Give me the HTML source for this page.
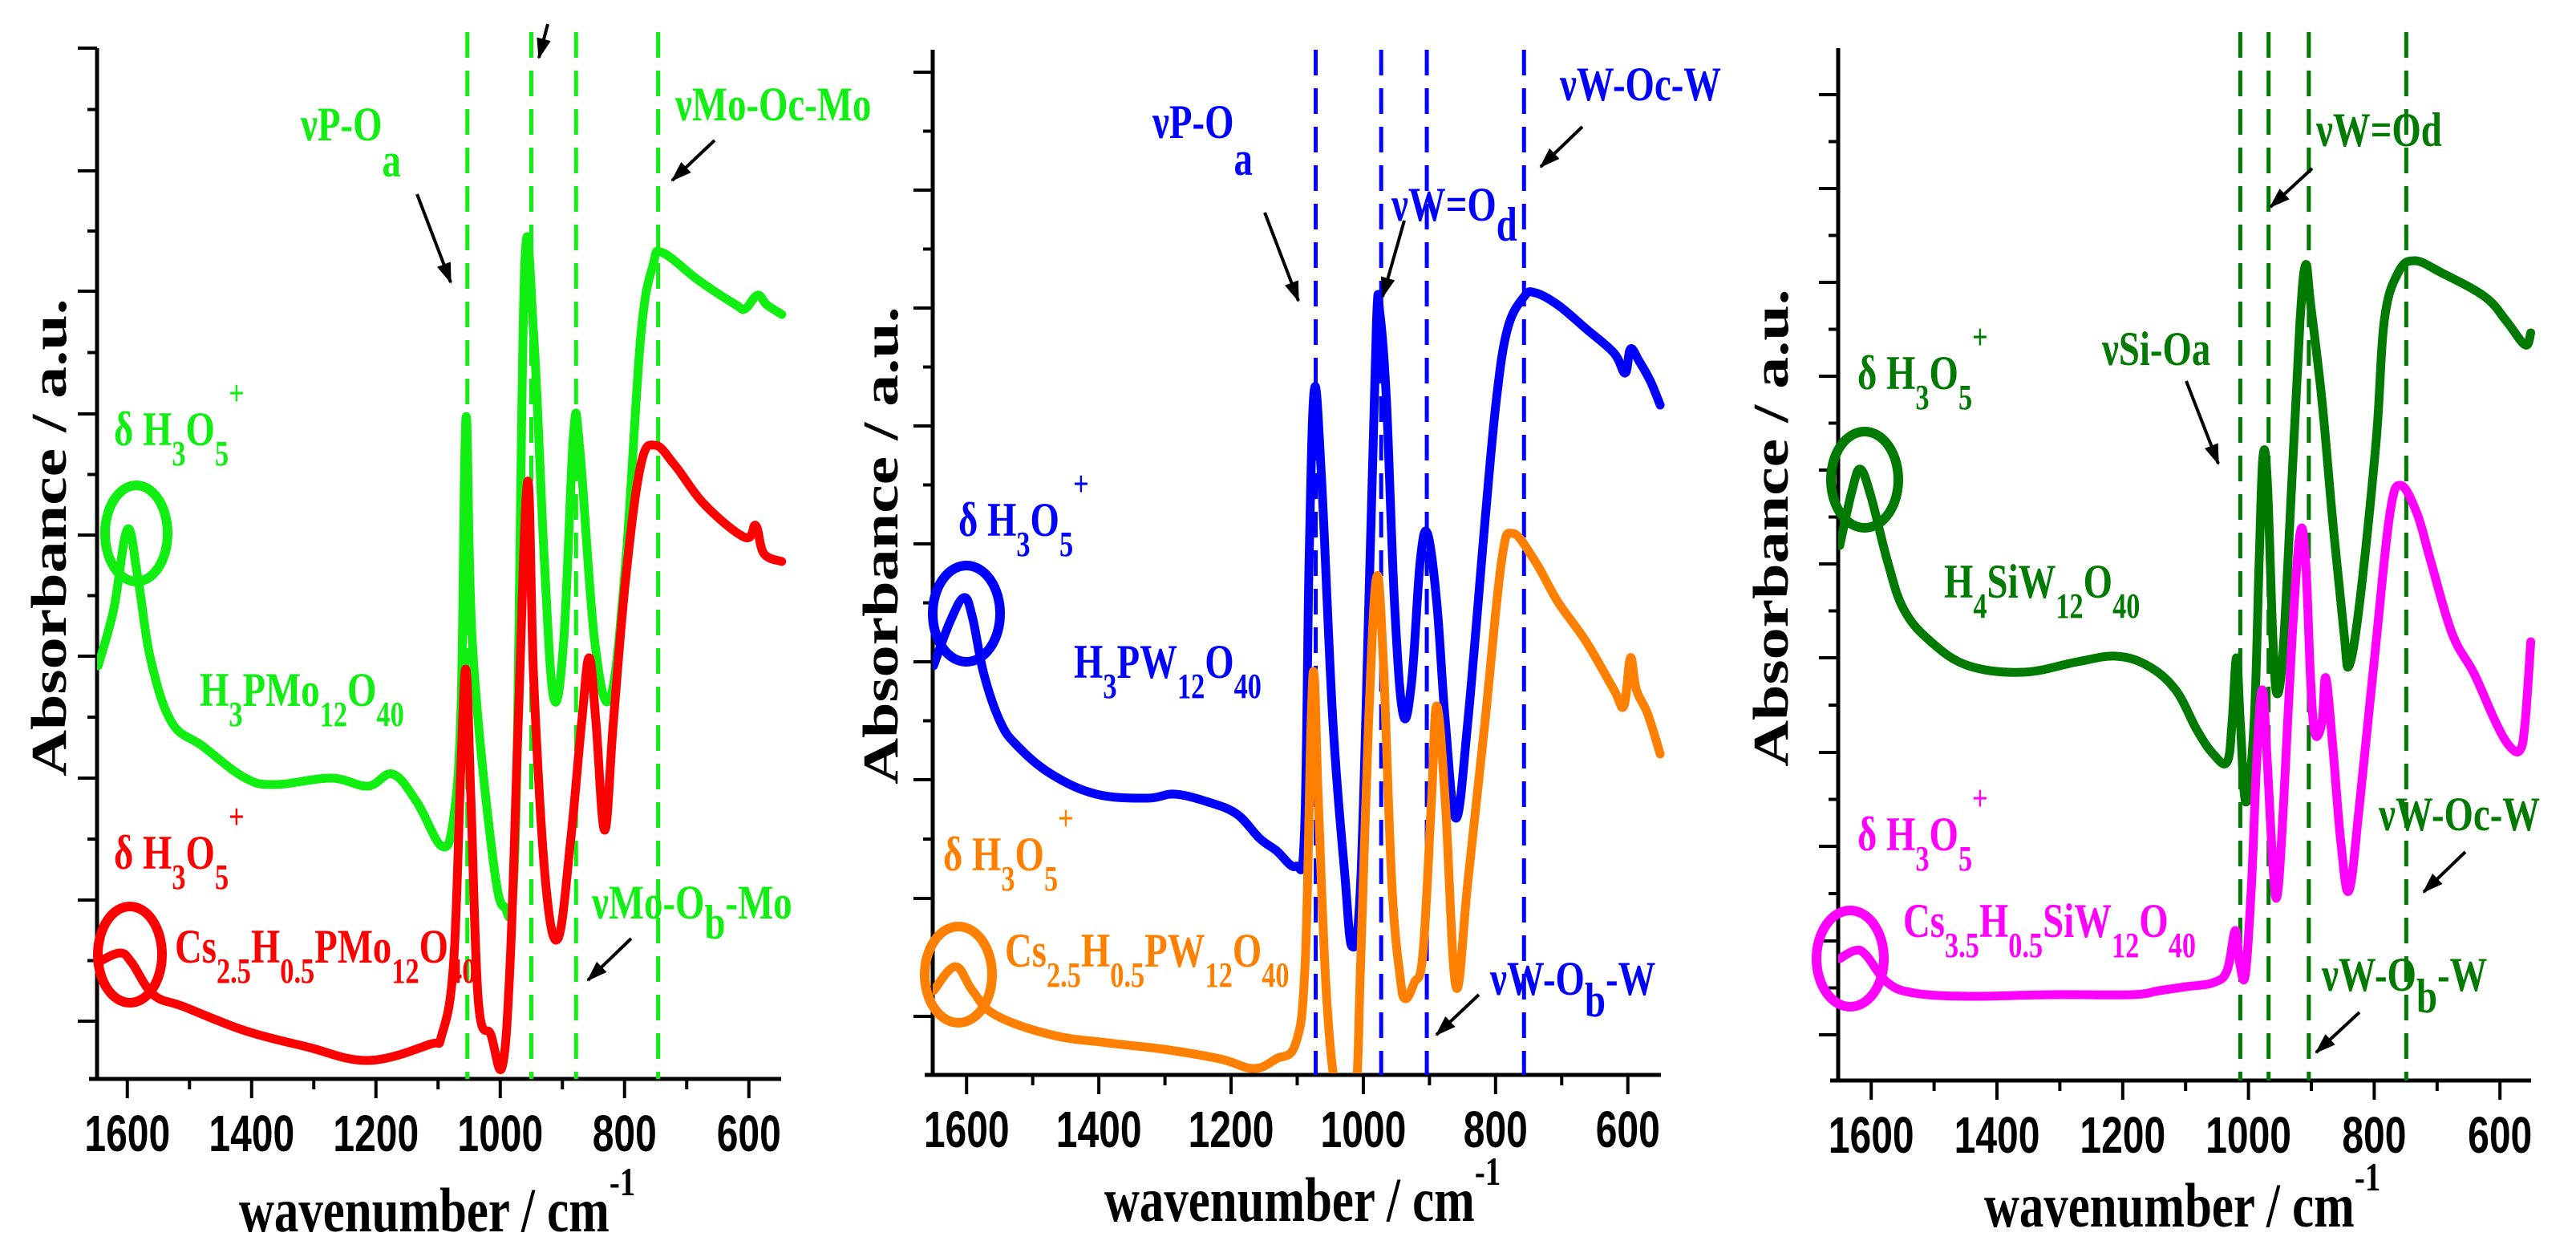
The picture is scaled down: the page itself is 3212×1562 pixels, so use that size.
<!DOCTYPE html>
<html><head><meta charset="utf-8">
<style>
html,body{margin:0;padding:0;background:#fff;}
svg{display:block;}
.ser{font-family:"Liberation Serif",serif;font-weight:bold;}
.san{font-family:"Liberation Sans",sans-serif;font-weight:bold;}
.lbl{font-family:"Liberation Serif",serif;font-weight:bold;font-size:60px;}
.sb{font-size:44px;}
</style></head>
<body>
<svg id="chart" width="3212" height="1562" viewBox="0 0 3212 1562" xmlns="http://www.w3.org/2000/svg">
<defs>
<marker id="ah" markerWidth="26" markerHeight="18" refX="24" refY="9" orient="auto" markerUnits="userSpaceOnUse">
<path d="M0,0 L26,9 L0,18 z" fill="#000"/>
</marker>
<clipPath id="clip1"><rect x="121" y="0" width="860" height="1343"/></clipPath>
<clipPath id="clip2"><rect x="1163" y="0" width="915" height="1338"/></clipPath>
<clipPath id="clip3"><rect x="2292" y="0" width="870" height="1345"/></clipPath>
</defs>
<g id="layer-axes"></g>
<g id="layer-data"></g>

<text class="ser" font-size="80" text-anchor="middle" transform="translate(82,670) rotate(-90) scale(1,0.78)">Absorbance / a.u.</text>
<text class="ser" font-size="80" text-anchor="middle" transform="translate(1119,680) rotate(-90) scale(1,0.78)">Absorbance / a.u.</text>
<text class="ser" font-size="80" text-anchor="middle" transform="translate(2229,658) rotate(-90) scale(1,0.78)">Absorbance / a.u.</text>

<text class="ser" font-size="78" transform="translate(298,1535) scale(0.78,1)">wavenumber / cm<tspan font-size="50" dy="-45">-1</tspan></text>
<text class="ser" font-size="78" transform="translate(1377,1522) scale(0.78,1)">wavenumber / cm<tspan font-size="50" dy="-45">-1</tspan></text>
<text class="ser" font-size="78" transform="translate(2474,1529) scale(0.78,1)">wavenumber / cm<tspan font-size="50" dy="-45">-1</tspan></text>

<g fill="#11ee11">
<text class="lbl" transform="translate(375,175) scale(0.78,1)">νP-O<tspan dy="45">a</tspan></text>
<text class="lbl" transform="translate(842,150) scale(0.78,1)">νMo-Oc-Mo</text>
<text class="lbl" transform="translate(142,555) scale(0.78,1)">δ H<tspan class="sb" dy="25">3</tspan><tspan dy="-25">O</tspan><tspan class="sb" dy="25">5</tspan><tspan class="sb" dy="-75">+</tspan></text>
<text class="lbl" transform="translate(249,880) scale(0.78,1)">H<tspan class="sb" dy="25">3</tspan><tspan dy="-25">PMo</tspan><tspan class="sb" dy="25">12</tspan><tspan dy="-25">O</tspan><tspan class="sb" dy="25">40</tspan></text>
<text class="lbl" transform="translate(738,1145) scale(0.78,1)">νMo-O<tspan dy="25">b</tspan><tspan dy="-25">-Mo</tspan></text>
</g>
<ellipse cx="170" cy="665" rx="39" ry="60" fill="none" stroke="#11ee11" stroke-width="12"/>
<g fill="#ff0000">
<text class="lbl" transform="translate(142,1083) scale(0.78,1)">δ H<tspan class="sb" dy="25">3</tspan><tspan dy="-25">O</tspan><tspan class="sb" dy="25">5</tspan><tspan class="sb" dy="-75">+</tspan></text>
<text class="lbl" transform="translate(218,1200) scale(0.78,1)">Cs<tspan class="sb" dy="25">2.5</tspan><tspan dy="-25">H</tspan><tspan class="sb" dy="25">0.5</tspan><tspan dy="-25">PMo</tspan><tspan class="sb" dy="25">12</tspan><tspan dy="-25">O</tspan><tspan class="sb" dy="25">40</tspan></text>
</g>
<ellipse cx="162" cy="1190" rx="40" ry="60" fill="none" stroke="#ff0000" stroke-width="12"/>

<g fill="#0000ff">
<text class="lbl" transform="translate(1437,172) scale(0.78,1)">νP-O<tspan dy="46">a</tspan></text>
<text class="lbl" transform="translate(1735,275) scale(0.78,1)">νW=O<tspan dy="25">d</tspan></text>
<text class="lbl" transform="translate(1945,125) scale(0.78,1)">νW-Oc-W</text>
<text class="lbl" transform="translate(1195,668) scale(0.78,1)">δ H<tspan class="sb" dy="25">3</tspan><tspan dy="-25">O</tspan><tspan class="sb" dy="25">5</tspan><tspan class="sb" dy="-75">+</tspan></text>
<text class="lbl" transform="translate(1339,845) scale(0.78,1)">H<tspan class="sb" dy="25">3</tspan><tspan dy="-25">PW</tspan><tspan class="sb" dy="25">12</tspan><tspan dy="-25">O</tspan><tspan class="sb" dy="25">40</tspan></text>
<text class="lbl" transform="translate(1858,1240) scale(0.78,1)">νW-O<tspan dy="27">b</tspan><tspan dy="-27">-W</tspan></text>
</g>
<ellipse cx="1205" cy="765" rx="42" ry="60" fill="none" stroke="#0000ff" stroke-width="12"/>
<g fill="#ff8000">
<text class="lbl" transform="translate(1176,1085) scale(0.78,1)">δ H<tspan class="sb" dy="25">3</tspan><tspan dy="-25">O</tspan><tspan class="sb" dy="25">5</tspan><tspan class="sb" dy="-75">+</tspan></text>
<text class="lbl" transform="translate(1253,1205) scale(0.78,1)">Cs<tspan class="sb" dy="25">2.5</tspan><tspan dy="-25">H</tspan><tspan class="sb" dy="25">0.5</tspan><tspan dy="-25">PW</tspan><tspan class="sb" dy="25">12</tspan><tspan dy="-25">O</tspan><tspan class="sb" dy="25">40</tspan></text>
</g>
<ellipse cx="1195" cy="1215" rx="42" ry="60" fill="none" stroke="#ff8000" stroke-width="12"/>

<g fill="#007a00">
<text class="lbl" transform="translate(2888,182) scale(0.78,1)">νW=Od</text>
<text class="lbl" transform="translate(2621,455) scale(0.78,1)">νSi-Oa</text>
<text class="lbl" transform="translate(2316,485) scale(0.78,1)">δ H<tspan class="sb" dy="25">3</tspan><tspan dy="-25">O</tspan><tspan class="sb" dy="25">5</tspan><tspan class="sb" dy="-75">+</tspan></text>
<text class="lbl" transform="translate(2424,745) scale(0.78,1)">H<tspan class="sb" dy="25">4</tspan><tspan dy="-25">SiW</tspan><tspan class="sb" dy="25">12</tspan><tspan dy="-25">O</tspan><tspan class="sb" dy="25">40</tspan></text>
<text class="lbl" transform="translate(2966,1035) scale(0.78,1)">νW-Oc-W</text>
<text class="lbl" transform="translate(2895,1235) scale(0.78,1)">νW-O<tspan dy="27">b</tspan><tspan dy="-27">-W</tspan></text>
</g>
<ellipse cx="2325" cy="598" rx="42" ry="60" fill="none" stroke="#007a00" stroke-width="12"/>
<g fill="#ff00ff">
<text class="lbl" transform="translate(2316,1060) scale(0.78,1)">δ H<tspan class="sb" dy="25">3</tspan><tspan dy="-25">O</tspan><tspan class="sb" dy="25">5</tspan><tspan class="sb" dy="-75">+</tspan></text>
<text class="lbl" transform="translate(2373,1168) scale(0.78,1)">Cs<tspan class="sb" dy="25">3.5</tspan><tspan dy="-25">H</tspan><tspan class="sb" dy="25">0.5</tspan><tspan dy="-25">SiW</tspan><tspan class="sb" dy="25">12</tspan><tspan dy="-25">O</tspan><tspan class="sb" dy="25">40</tspan></text>
</g>
<ellipse cx="2307" cy="1195" rx="42" ry="60" fill="none" stroke="#ff00ff" stroke-width="12"/>

<g stroke="#000" stroke-width="4" marker-end="url(#ah)">
<line x1="520" y1="242" x2="562" y2="352"/>
<line x1="683" y1="30" x2="672" y2="72"/>
<line x1="891" y1="175" x2="838" y2="225"/>
<line x1="787" y1="1170" x2="733" y2="1222"/>
<line x1="1577" y1="265" x2="1619" y2="375"/>
<line x1="1751" y1="275" x2="1724" y2="370"/>
<line x1="1973" y1="158" x2="1921" y2="208"/>
<line x1="1844" y1="1240" x2="1791" y2="1290"/>
<line x1="2883" y1="210" x2="2831" y2="258"/>
<line x1="2726" y1="475" x2="2766" y2="578"/>
<line x1="3074" y1="1062" x2="3022" y2="1112"/>
<line x1="2942" y1="1262" x2="2888" y2="1312"/>
</g>
</svg>
<script>
const p1Wn=[1647,1622,1600,1583,1563,1529,1479,1410,1361,1272,1213,1173,1134,1094,1075,1063,1055,1045,1015,994,976,961,946,929,914,898,882,872,848,823,798,774,754,739,680,621,606,586,571,547];
const p1Green=[51.5,58.5,68.5,62.5,52.5,44.5,41.5,37.5,36.7,37.5,36.5,38,34.5,29,32.5,46.5,82.5,54.5,29.5,21.5,29.5,100.5,92.5,64.5,47.5,54.5,80.5,78.5,54.5,47.5,64.5,92.5,101.5,103,99.5,96.5,96,97.7,96.5,95.3];
const p1RedWn=[1648,1612,1593,1558,1509,1410,1311,1213,1114,1094,1075,1063,1055,1047,1035,1015,997,984,971,956,946,927,907,887,869,857,846,832,818,798,774,751,719,670,606,589,576,547];
const p1Red=[14.5,15.7,14.5,10.5,9,6,4,2.3,4.3,5.5,14.5,39.5,51,34.5,9.5,5.5,1.5,14.5,44.5,74.5,49.5,24.5,17.5,29.5,44.5,52.5,44.5,31,44.5,62.5,76.5,79,76.5,71.5,67.5,69,65.5,64.5];
const p1Dashed=[1053,950,878,746];

const p2BlueWn=[1650,1625,1604,1591,1574,1549,1523,1472,1404,1327,1285,1234,1191,1157,1132,1102,1089,1082,1074,1063,1046,1028,1017,1004,990,980,975,965,953,940,927,914,903,889,876,860,842,816,799,782,757,740,706,663,621,604,596,583,566,551];
const p2Blue=[51,56.5,59.5,57,50,44,41,37.5,35,34.5,35,34,32.5,29.5,28,26,30,64,85.5,74,44,25,16,24,64,94,95,84,59,45,49,64,67.5,59,44,32,44,69,84,93,97,97.5,96,93,90,87.5,90.5,89,86.5,83.5];
const p2OrangeWn=[1650,1617,1591,1557,1472,1387,1302,1217,1166,1132,1102,1088,1079,1074,1068,1055,1038,1013,1004,992,980,970,957,944,936,923,910,897,889,876,860,842,816,791,774,740,706,663,621,606,596,587,570,551];
const p2Orange=[10.5,13.5,10.5,7.5,5,4,3.2,2,0.8,2,4,14,44,49.5,34,9,-3,-3,14,44,62,52,24,12,9.5,11.5,15,34,46,34,11,24,44,64,67.5,64,59,54,48,46,52,48,45,40];
const p2Dashed=[1072,973,904,757];

const p3GreenWn=[1650,1630,1617,1600,1574,1548,1505,1445,1358,1272,1211,1160,1116,1082,1056,1034,1026,1019,1013,1004,991,983,977,970,961,954,944,931,918,909,901,883,866,848,840,823,797,784,762,736,693,624,590,560,551];
const p3Green=[66.7,73.7,76.2,72.7,64.7,58.7,54.7,51.7,50.9,52.2,52.9,51.7,48.7,43.7,40.7,39.7,44.7,52.7,44.7,34.7,44.7,64.7,77.7,74.7,54.7,48.2,54.7,74.7,94.7,101.7,96.7,84.7,69.7,55.7,51.7,59.7,79.7,94.7,100.7,102.2,100.7,97.7,94.7,91.7,93.2];
const p3MagentaWn=[1650,1626,1609,1574,1531,1445,1315,1186,1142,1099,1056,1034,1021,1014,1005,995,987,978,970,961,954,944,931,918,909,901,894,883,877,866,853,840,823,797,775,758,732,710,676,641,607,585,568,560,551];
const p3Magenta=[15.2,16.2,15.7,12.2,10.9,10.5,10.7,10.7,11.2,11.7,12.2,13.7,18.7,14.7,13.2,24.7,39.7,48.7,39.7,26.7,23.2,34.7,54.7,68.2,64.7,49.7,43.2,44.7,50.2,41.7,29.7,23.7,34.7,54.7,70.7,74.2,70.7,64.7,55.7,50.7,44.7,41.7,41.2,44.7,54.7];
const p3Dashed=[1013,968,904,749];

const xTickLabels=[1600,1400,1200,1000,800,600];
const xMinorTicks=[1500,1300,1100,900,700];
const p1YTicks=[7.2,22.3,37.5,52.7,67.8,82.9,98.2,113.2,128.5];
const p2YTicks=[7.3,22,36.8,51.5,66.2,80.9,95.6,110.3,125];
const p3YTicks=[5.7,17.4,29.2,40.9,52.7,64.4,76.1,87.8,99.5,111.2,122.9];

const panels=[
 {id:1,x0:120,ppc:0.775,bottom:1345,top:60,right:974,axisLeft:121,labelY:1435,dashTop:40,clip:'clip1',yTicks:p1YTicks,dashed:p1Dashed,dashColor:'#11ee11',
  series:[{wn:p1Wn,v:p1Green,color:'#11ee11',name:'h3pmo12o40-curve'},{wn:p1RedWn,v:p1Red,color:'#ff0000',name:'cs-pmo-curve'}]},
 {id:2,x0:1164,ppc:0.8245,bottom:1340,top:62,right:2071,axisLeft:1163,labelY:1430,dashTop:62,clip:'clip2',yTicks:p2YTicks,dashed:p2Dashed,dashColor:'#0000ff',
  series:[{wn:p2BlueWn,v:p2Blue,color:'#0000ff',name:'h3pw12o40-curve'},{wn:p2OrangeWn,v:p2Orange,color:'#ff8000',name:'cs-pw-curve'}]},
 {id:3,x0:2294,ppc:0.784,bottom:1347,top:60,right:3156,axisLeft:2292,labelY:1437,dashTop:40,clip:'clip3',yTicks:p3YTicks,dashed:p3Dashed,dashColor:'#007a00',
  series:[{wn:p3GreenWn,v:p3Green,color:'#007a00',name:'h4siw12o40-curve'},{wn:p3MagentaWn,v:p3Magenta,color:'#ff00ff',name:'cs-siw-curve'}]}
];
const NS='http://www.w3.org/2000/svg';
const axesLayer=document.getElementById('layer-axes');
const dataLayer=document.getElementById('layer-data');
function xScale(p,wn){return p.x0+(1650-wn)*p.ppc;}
function yScale(p,v){return p.bottom-v*10;}
function mk(tag,attrs,parent){const e=document.createElementNS(NS,tag);for(const k in attrs)e.setAttribute(k,attrs[k]);parent.appendChild(e);return e;}
function smoothPath(pts){
  let d='M'+pts[0][0].toFixed(1)+','+pts[0][1].toFixed(1);
  for(let i=0;i<pts.length-1;i++){
    const p0=pts[Math.max(0,i-1)],p1=pts[i],p2=pts[i+1],p3=pts[Math.min(pts.length-1,i+2)];
    const t=0.18;
    const c1=[p1[0]+(p2[0]-p0[0])*t,p1[1]+(p2[1]-p0[1])*t];
    const c2=[p2[0]-(p3[0]-p1[0])*t,p2[1]-(p3[1]-p1[1])*t];
    d+=' C'+c1[0].toFixed(1)+','+c1[1].toFixed(1)+' '+c2[0].toFixed(1)+','+c2[1].toFixed(1)+' '+p2[0].toFixed(1)+','+p2[1].toFixed(1);
  }
  return d;
}
panels.forEach(p=>{
  p.dashed.forEach(wn=>{
    const l=mk('line',{x1:xScale(p,wn),x2:xScale(p,wn),y1:p.dashTop,y2:p.bottom,stroke:p.dashColor,'stroke-width':5,'stroke-dasharray':'32 16'},dataLayer);
    
    
  });
  p.series.forEach(s=>{
    const pts=s.wn.map((w,i)=>[xScale(p,w),yScale(p,s.v[i])]);
    const path=mk('path',{d:smoothPath(pts),fill:'none',stroke:s.color,'stroke-width':11,'stroke-linejoin':'round','stroke-linecap':'round','clip-path':'url(#'+p.clip+')'},dataLayer);
    
    
  });
  const ya=mk('line',{x1:p.axisLeft,x2:p.axisLeft,y1:p.top,y2:p.bottom+2,stroke:'#000','stroke-width':5},axesLayer);
  
  
  const xa=mk('line',{x1:p.axisLeft-10,x2:p.right,y1:p.bottom,y2:p.bottom,stroke:'#000','stroke-width':5},axesLayer);
  
  
  p.yTicks.forEach((v,i)=>{
    const y=yScale(p,v);
    const t=mk('line',{x1:p.axisLeft-24,x2:p.axisLeft,y1:y,y2:y,stroke:'#000','stroke-width':4},axesLayer);
    
    
    if(i<p.yTicks.length-1){
      const ym=yScale(p,(v+p.yTicks[i+1])/2);
      const m=mk('line',{x1:p.axisLeft-12,x2:p.axisLeft,y1:ym,y2:ym,stroke:'#000','stroke-width':4},axesLayer);
      
      
    }
  });
  xTickLabels.forEach(wn=>{
    const x=xScale(p,wn);
    const t=mk('line',{x1:x,x2:x,y1:p.bottom,y2:p.bottom+24,stroke:'#000','stroke-width':4},axesLayer);
    
    
    const lb=mk('text',{transform:'translate('+x+','+p.labelY+') scale(0.75,1)','text-anchor':'middle','class':'san','font-size':64},axesLayer);
    lb.textContent=String(wn);
    
    
  });
  xMinorTicks.forEach(wn=>{
    const x=xScale(p,wn);
    const t=mk('line',{x1:x,x2:x,y1:p.bottom,y2:p.bottom+13,stroke:'#000','stroke-width':4},axesLayer);
    
    
  });
});
</script>
</body></html>
